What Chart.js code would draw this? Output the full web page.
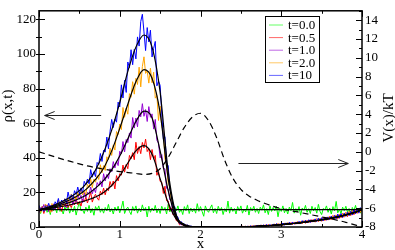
<!DOCTYPE html>
<html>
<head>
<meta charset="utf-8">
<script src="https://cdn.jsdelivr.net/npm/chart.js@4.4.0/dist/chart.umd.min.js"></script>
<style>
  html, body { margin: 0; padding: 0; background: #fff; }
  #chart { display: block; }
</style>
</head>
<body>
<canvas id="chart" width="395" height="250"></canvas>
<script>
// simulated profiles are sampled every 0.02 in x, the fitted curves every 0.1
const simStep = 0.02;
const fitStep = 0.1;

const legendLabels = ['t=0.0', 't=0.5', 't=1.0', 't=2.0', 't=10'];
const legendColors = ['#00ff00', '#ff0000', '#9400d3', '#ffa500', '#0000ff'];

// rho(x,t), simulation (noisy)
const rhoT0 = [
  11.0, 7.8, 11.8, 9.3, 12.5, 8.5, 10.6, 7.2, 12.0, 9.4,
  11.3, 8.2, 14.5, 9.0, 10.3, 7.5, 11.5, 9.4, 12.2, 8.0,
  10.7, 8.7, 12.0, 6.9, 11.0, 14.5, 9.3, 10.0, 7.8, 11.5,
  9.0, 12.5, 8.2, 10.7, 6.8, 11.8, 9.7, 12.2, 8.5, 10.6,
  8.0, 11.3, 9.3, 13.1, 8.7, 10.6, 7.5, 11.5, 9.4, 12.0,
  8.2, 11.0, 15.0, 7.8, 10.3, 11.5, 9.0, 7.2, 11.8, 9.3,
  12.2, 8.0, 10.7, 8.7, 12.8, 9.4, 11.3, 5.8, 12.0, 8.5,
  11.0, 9.3, 12.5, 8.2, 10.6, 7.8, 12.0, 9.7, 11.3, 7.5,
  13.1, 8.7, 10.7, 8.0, 11.5, 9.3, 12.2, 8.5, 10.3, 7.2,
  11.8, 9.4, 12.8, 7.8, 11.0, 8.7, 10.7, 8.0, 13.5, 9.0,
  11.8, 9.0, 6.2, 12.2, 9.7, 8.5, 11.0, 12.8, 8.2, 10.7,
  7.8, 12.0, 9.3, 11.3, 7.2, 10.6, 8.7, 15.0, 8.0, 11.5,
  9.0, 10.7, 7.5, 11.8, 9.4, 12.2, 8.0, 10.3, 8.7, 12.5,
  6.9, 11.3, 9.3, 12.0, 8.5, 10.7, 7.8, 11.5, 9.7, 12.8,
  8.2, 10.6, 7.2, 12.2, 9.0, 11.3, 9.3, 12.0, 5.9, 11.0,
  9.0, 12.2, 8.2, 10.7, 7.5, 11.5, 9.4, 14.2, 8.0, 10.6,
  8.7, 11.8, 6.8, 11.0, 9.7, 12.5, 8.5, 10.6, 7.8, 12.0,
  9.3, 11.3, 8.0, 13.1, 9.0, 7.2, 10.7, 10.0, 12.2, 8.5,
  11.0, 7.5, 11.8, 9.3, 14.8, 8.2, 10.3, 7.8, 11.5, 9.4,
  12.0, 8.7, 10.7, 6.9, 11.3, 9.4, 12.5, 8.5, 10.6, 8.0,
  10.3
];
const rhoT05 = [
  10.6, 9.1, 11.9, 7.8, 11.2, 12.8, 10.0, 10.8, 9.0, 12.4,
  10.3, 13.6, 10.0, 12.4, 9.0, 13.5, 12.0, 14.4, 11.3, 13.2,
  11.2, 14.4, 12.8, 16.5, 12.9, 14.7, 12.1, 16.2, 14.5, 17.2,
  13.9, 16.9, 20.1, 14.4, 17.3, 18.9, 16.8, 15.5, 20.7, 18.7,
  22.5, 18.6, 22.4, 21.0, 26.3, 23.4, 26.6, 22.0, 29.7, 26.6,
  30.8, 30.0, 35.8, 31.7, 36.2, 33.7, 41.4, 39.4, 43.0, 38.9,
  49.0, 42.5, 46.5, 42.4, 48.9, 45.7, 50.8, 43.6, 45.4, 38.9,
  44.8, 39.2, 41.4, 29.9, 32.1, 26.4, 26.0, 19.4, 23.6, 15.2,
  15.1, 9.6, 11.1, 7.0, 7.6, 3.7, 3.5, 1.3, 2.2, 1.0,
  1.0, 0.3, 0.9, 0.1, 0.2, 0, 0.2, 0.1, 0.2, 0,
  0, 0, 0.1, 0, 0, 0, 0, 0, 0.1, 0,
  0, 0, 0, 0, 0, 0, 0.1, 0, 0, 0,
  0, 0, 0.1, 0, 0.1, 0.0, 0.4, 0.0, 0.2, 0.0,
  0.5, 0.0, 0.6, 0.1, 0.6, 0.1, 0.9, 0.3, 1.1, 0.4,
  1.2, 0.3, 1.4, 0.6, 1.0, 0.5, 1.7, 0.9, 1.9, 0.8,
  2.1, 1.0, 2.3, 1.2, 2.4, 1.2, 2.6, 1.5, 2.9, 1.6,
  3.1, 1.7, 3.4, 2.0, 3.6, 2.1, 3.9, 2.5, 4.2, 2.8,
  4.5, 2.8, 4.8, 3.1, 5.0, 3.3, 5.5, 3.7, 5.8, 4.0,
  6.2, 4.1, 6.6, 4.5, 6.9, 4.8, 7.4, 5.3, 7.9, 5.7,
  8.4, 6.0, 8.9, 6.6, 9.5, 7.1, 10.2, 7.9, 10.9, 8.5,
  10.8
];
const rhoT1 = [
  8.3, 11.2, 9.7, 13.0, 9.6, 11.2, 8.8, 12.5, 11.0, 13.4,
  10.3, 12.9, 15.6, 10.5, 13.0, 14.4, 12.4, 11.1, 15.5, 13.5,
  16.7, 13.0, 16.0, 14.5, 18.7, 16.0, 18.3, 14.0, 20.0, 17.0,
  20.1, 18.9, 23.1, 19.2, 22.3, 19.9, 25.7, 24.0, 26.7, 23.2,
  30.8, 26.6, 30.4, 28.0, 33.7, 32.0, 37.8, 34.1, 38.2, 35.5,
  43.8, 42.2, 49.4, 43.4, 50.6, 48.8, 54.4, 51.4, 63.3, 57.2,
  63.0, 57.9, 67.4, 63.7, 71.3, 64.0, 67.9, 61.0, 69.6, 63.4,
  65.4, 56.6, 62.2, 50.1, 48.5, 40.0, 41.9, 33.7, 33.6, 22.3,
  21.9, 15.7, 14.8, 7.4, 7.9, 6.5, 3.3, 2.5, 1.2, 1.6,
  0.8, 1.1, 0.3, 0.4, 0.0, 0.2, 0.1, 0.2, 0, 0.1,
  0, 0.1, 0, 0, 0, 0, 0, 0.1, 0, 0,
  0.1, 0, 0, 0, 0, 0, 0, 0, 0.1, 0,
  0, 0.1, 0, 0, 0, 0.3, 0.0, 0.2, 0.4, 0.1,
  0.1, 0.5, 0.2, 0.6, 0.3, 0.8, 0.2, 0.9, 0.4, 1.0,
  0.4, 1.3, 0.6, 1.2, 0.5, 1.5, 0.7, 1.8, 0.9, 1.6,
  1.0, 2.0, 1.2, 2.3, 1.3, 2.5, 1.4, 2.7, 1.6, 2.8,
  1.8, 3.0, 2.1, 3.5, 2.4, 3.7, 2.3, 3.9, 2.6, 4.3,
  2.9, 4.4, 3.2, 4.9, 3.4, 5.2, 3.6, 5.6, 3.9, 5.9,
  4.2, 6.0, 4.5, 6.4, 4.8, 7.1, 5.0, 7.5, 5.4, 7.9,
  6.1, 8.3, 6.5, 8.8, 6.9, 9.7, 7.6, 10.1, 8.0, 11.0,
  9.4
];
const rhoT2 = [
  12.0, 8.4, 11.1, 9.5, 13.2, 10.6, 12.4, 8.4, 13.6, 10.7,
  13.2, 11.9, 15.3, 11.7, 14.2, 11.8, 16.3, 14.6, 16.4, 13.2,
  19.1, 15.3, 17.9, 15.6, 19.8, 18.0, 22.0, 18.6, 21.3, 18.7,
  24.6, 22.9, 27.8, 22.8, 27.7, 25.9, 29.8, 27.5, 36.0, 31.4,
  35.5, 32.7, 40.6, 38.9, 45.7, 41.4, 47.5, 44.5, 55.2, 53.5,
  59.5, 56.3, 69.1, 63.4, 68.7, 65.2, 77.1, 75.0, 84.0, 76.8,
  86.0, 82.4, 92.4, 81.0, 92.8, 98.4, 88.8, 90.2, 83.2, 91.8,
  83.4, 89.5, 74.5, 76.0, 61.6, 69.9, 58.0, 55.5, 39.2, 36.1,
  25.4, 23.0, 15.0, 14.1, 7.4, 6.3, 3.0, 3.5, 1.8, 2.0,
  0.9, 1.1, 1.2, 0.1, 0.3, 0.2, 0.3, 0.1, 0, 0.1,
  0, 0, 0, 0.1, 0, 0, 0.1, 0, 0, 0,
  0, 0, 0, 0, 0.1, 0, 0, 0.1, 0, 0,
  0.1, 0, 0, 0, 0.2, 0.0, 0.3, 0.1, 0.4, 0.0,
  0.4, 0.1, 0.6, 0.2, 0.7, 0.2, 0.8, 0.3, 1.0, 0.5,
  1.1, 0.5, 1.3, 0.6, 1.4, 0.8, 1.6, 1.0, 1.9, 1.1,
  2.0, 1.1, 2.2, 1.3, 2.5, 1.4, 2.4, 1.6, 2.8, 1.8,
  3.0, 1.9, 3.3, 2.2, 3.6, 2.4, 3.8, 2.7, 4.1, 3.0,
  4.4, 3.0, 4.7, 3.3, 5.1, 3.6, 5.3, 3.9, 5.7, 4.3,
  6.1, 4.3, 6.5, 4.7, 7.0, 5.0, 7.3, 5.5, 7.8, 6.0,
  8.3, 6.4, 8.8, 6.9, 9.4, 7.6, 9.9, 8.2, 10.8, 8.9,
  10.4
];
const rhoT10 = [
  12.6, 9.2, 11.2, 9.0, 12.3, 10.6, 13.7, 10.5, 12.5, 10.1,
  14.6, 12.8, 16.5, 11.9, 15.6, 13.7, 16.3, 14.0, 20.2, 16.1,
  18.7, 15.8, 21.0, 18.8, 23.1, 19.2, 22.6, 19.7, 26.4, 24.4,
  27.7, 25.0, 33.2, 28.8, 31.9, 29.1, 37.3, 36.2, 42.5, 37.9,
  44.4, 43.3, 52.0, 45.2, 55.3, 62.2, 57.5, 62.4, 60.6, 72.2,
  69.4, 82.2, 74.6, 84.8, 77.8, 95.4, 92.0, 102.5, 93.8, 102.7,
  97.2, 109.9, 104.6, 118.8, 123.0, 112.8, 102.0, 115.3, 107.0, 113.8,
  98.3, 103.3, 107.3, 81.6, 84.3, 81.9, 65.9, 50.9, 52.1, 37.1,
  35.4, 21.9, 18.8, 11.8, 11.8, 6.7, 5.7, 2.0, 3.2, 1.5,
  1.7, 0.9, 1.2, 0.3, 0.5, 0.3, 0.1, 0.2, 0.0, 0.2,
  0.1, 0, 0, 0.1, 0, 0, 0, 0.1, 0, 0,
  0, 0, 0, 0.1, 0, 0.1, 0, 0, 0, 0,
  0, 0, 0.2, 0, 0.1, 0.4, 0.0, 0.3, 0.1, 0.4,
  0.1, 0.6, 0.2, 0.5, 0.1, 0.9, 0.2, 1.0, 0.4, 1.1,
  0.5, 1.3, 0.6, 1.4, 0.7, 1.7, 0.8, 1.9, 1.0, 1.5,
  1.2, 2.3, 1.0, 2.4, 1.4, 2.7, 1.5, 2.9, 1.7, 2.6,
  2.0, 3.3, 2.1, 3.7, 2.4, 3.9, 2.5, 4.2, 2.7, 4.0,
  3.1, 4.7, 3.3, 5.1, 3.5, 5.4, 3.7, 5.8, 4.0, 5.5,
  4.4, 6.3, 4.6, 6.7, 4.9, 7.4, 5.3, 7.8, 5.6, 8.0,
  6.3, 8.6, 6.7, 9.1, 7.0, 10.1, 7.8, 10.6, 8.3, 11.2,
  9.8
];

// rho(x,t), theory (smooth black curves)
const fitT0 = [10, 10];
const fitT05 = [10, 10.5, 11.2, 12, 13, 14.2, 15.6, 17.3, 20, 24, 29.5, 37, 44, 47, 42, 28, 14, 4.5, 0.8, 0.1,
  0, 0, 0, 0, 0, 0.1, 0.2, 0.4, 0.7, 1.0, 1.4, 1.8, 2.3, 2.9, 3.5, 4.2, 5.0, 5.9, 7.0, 8.3, 10];
const fitT1 = [10, 10.8, 11.8, 13, 14.5, 16.5, 19, 22.5, 27, 33, 41, 51, 61, 67, 63, 44, 21, 5, 1, 0.2,
  0, 0, 0, 0, 0, 0.1, 0.2, 0.4, 0.7, 1.0, 1.4, 1.8, 2.3, 2.9, 3.5, 4.2, 5.0, 5.9, 7.0, 8.3, 10];
const fitT2 = [10, 11, 12.3, 14, 16, 18.8, 22.5, 27.5, 34, 44, 57, 71, 84, 91, 86, 66, 28, 6, 1.2, 0.2,
  0, 0, 0, 0, 0, 0.1, 0.2, 0.4, 0.7, 1.0, 1.4, 1.8, 2.3, 2.9, 3.5, 4.2, 5.0, 5.9, 7.0, 8.3, 10];
const fitT10 = [10, 11.3, 12.9, 15, 17.6, 21, 26, 33, 43, 56, 72, 90, 104, 111, 104, 78, 32, 7, 1.5, 0.3,
  0.05, 0, 0, 0, 0, 0.1, 0.2, 0.4, 0.7, 1.0, 1.4, 1.8, 2.3, 2.9, 3.5, 4.2, 5.0, 5.9, 7.0, 8.3, 10];

// potential V(x)/kT, right axis
const xPot = [0, 0.2, 0.4, 0.6, 0.8, 1.0, 1.2, 1.3, 1.4, 1.5, 1.6, 1.7, 1.8, 1.9, 2.0, 2.1, 2.2, 2.3, 2.4, 2.5,
  2.6, 2.7, 2.8, 2.9, 3.0, 3.2, 3.4, 3.6, 3.8, 4.0];
const potential = [0, -0.55, -1.05, -1.5, -1.85, -2.1, -2.3, -2.4, -2.3, -1.8, -0.6, 1.0, 2.6, 3.7, 4.1, 3.3, 1.5, -0.9, -2.8, -4.0,
  -4.7, -5.15, -5.5, -5.8, -6.05, -6.4, -6.75, -7.1, -7.5, -8.0];

// arrows, in data units: [x0, y0, x1, y1, axis]
const arrows = [
  [0.77, 64.6, 0.07, 64.6, 'y'],
  [2.47, -1.23, 3.83, -1.23, 'y1']
];

const xSim = rhoT0.map((_, i) => i * simStep);
const xFit = fitT10.map((_, i) => i * fitStep);

const pts = (xs, ys) => ys.map((y, i) => ({ x: xs[i], y: y }));

const serif = '"Liberation Serif", "Times New Roman", serif';
Chart.defaults.font.family = serif;
Chart.defaults.font.size = 13;
Chart.defaults.color = '#000';

const simSeries = [rhoT0, rhoT05, rhoT1, rhoT2, rhoT10];
const fitSeries = [fitT0, fitT05, fitT1, fitT2, fitT10];

const datasets = [];
simSeries.forEach((ys, i) => {
  datasets.push({
    label: legendLabels[i],
    data: pts(xSim, ys),
    borderColor: legendColors[i],
    borderWidth: 1,
    pointRadius: 0,
    tension: 0,
    yAxisID: 'y',
    order: 6 - i
  });
});
fitSeries.forEach((ys, i) => {
  datasets.push({
    label: 'fit',
    data: i === 0 ? pts([0, 4], ys) : pts(xFit, ys),
    borderColor: '#000',
    borderWidth: 1.2,
    pointRadius: 0,
    cubicInterpolationMode: 'monotone',
    yAxisID: 'y',
    order: 1
  });
});
datasets.push({
  label: 'V',
  data: pts(xPot, potential),
  borderColor: '#000',
  borderWidth: 1.2,
  borderDash: [6, 4],
  pointRadius: 0,
  cubicInterpolationMode: 'monotone',
  yAxisID: 'y1',
  order: 0
});

// frame, inward ticks, arrows, titles and legend box
const decor = {
  id: 'decor',
  afterDatasetsDraw(chart) {
    const { ctx, chartArea: a, scales } = chart;
    const sx = scales.x, yl = scales.y, yr = scales.y1;
    ctx.save();
    ctx.strokeStyle = '#000';
    ctx.lineWidth = 1;
    ctx.beginPath();
    for (let k = 0; k <= 8; k++) {
      const px = Math.round(sx.getPixelForValue(k * 0.5)) + 0.5;
      const len = k % 2 === 0 ? 6 : 3;
      ctx.moveTo(px, a.bottom); ctx.lineTo(px, a.bottom - len);
      ctx.moveTo(px, a.top); ctx.lineTo(px, a.top + len);
    }
    for (let v = 0; v <= 120; v += 10) {
      const py = Math.round(yl.getPixelForValue(v)) + 0.5;
      const len = v % 20 === 0 ? 6 : 3;
      ctx.moveTo(a.left - 3, py); ctx.lineTo(a.left + len, py);
    }
    for (let v = -8; v <= 15; v++) {
      const py = Math.round(yr.getPixelForValue(v)) + 0.5;
      const len = v % 2 === 0 ? 6 : 3;
      ctx.moveTo(a.right, py); ctx.lineTo(a.right - len, py);
    }
    ctx.stroke();
    ctx.lineWidth = 1.5;
    ctx.strokeRect(a.left, a.top, a.right - a.left, a.bottom - a.top);

    // arrows
    ctx.lineWidth = 1;
    ctx.strokeStyle = '#222';
    arrows.forEach(([x0, y0, x1, y1, ax]) => {
      const p0x = sx.getPixelForValue(x0), p1x = sx.getPixelForValue(x1);
      const p0y = Math.round(scales[ax].getPixelForValue(y0)) + 0.5;
      const p1y = Math.round(scales[ax].getPixelForValue(y1)) + 0.5;
      const dir = Math.sign(p1x - p0x);
      ctx.beginPath();
      ctx.moveTo(p0x, p0y); ctx.lineTo(p1x, p1y);
      ctx.moveTo(p1x - dir * 10, p1y - 4); ctx.lineTo(p1x, p1y); ctx.lineTo(p1x - dir * 10, p1y + 4);
      ctx.stroke();
    });

    // axis titles
    ctx.fillStyle = '#000';
    ctx.font = '15px ' + serif;
    ctx.textAlign = 'center';
    ctx.textBaseline = 'middle';
    ctx.fillText('x', (a.left + a.right) / 2, 244);
    ctx.save();
    ctx.translate(8, 106);
    ctx.rotate(-Math.PI / 2);
    ctx.fillText('ρ(x,t)', 0, 0);
    ctx.restore();
    ctx.save();
    ctx.translate(389, 118);
    ctx.rotate(-Math.PI / 2);
    ctx.fillText('V(x)/kT', 0, 0);
    ctx.restore();

    // legend
    ctx.fillStyle = '#fff';
    ctx.fillRect(265, 16, 54, 66);
    ctx.strokeStyle = '#000';
    ctx.lineWidth = 1;
    ctx.strokeRect(265.5, 16.5, 54, 66);
    ctx.font = '13px ' + serif;
    ctx.textAlign = 'left';
    legendLabels.forEach((lab, i) => {
      const y = 25 + i * 12.6;
      ctx.globalAlpha = 0.6;
      ctx.strokeStyle = legendColors[i];
      ctx.beginPath();
      ctx.moveTo(269, y); ctx.lineTo(283, y);
      ctx.stroke();
      ctx.globalAlpha = 1;
      ctx.fillStyle = '#000';
      ctx.fillText(lab, 288, y + 0.5);
    });
    ctx.restore();
  }
};

new Chart(document.getElementById('chart'), {
  type: 'line',
  data: { datasets: datasets },
  options: {
    responsive: false,
    animation: false,
    events: [],
    layout: { padding: { top: 1, left: 0, right: 0, bottom: 0 } },
    scales: {
      x: {
        type: 'linear',
        min: 0,
        max: 4,
        grid: { display: false, drawTicks: false },
        border: { display: false },
        ticks: { stepSize: 1, padding: 0, autoSkip: false, maxRotation: 0 },
        afterFit: (s) => { s.height = 23; }
      },
      y: {
        type: 'linear',
        position: 'left',
        min: 0,
        max: 125,
        grid: { display: false, drawTicks: false },
        border: { display: false },
        ticks: { stepSize: 20, padding: 3, includeBounds: false },
        afterFit: (s) => { s.width = 39; }
      },
      y1: {
        type: 'linear',
        position: 'right',
        min: -8,
        max: 15,
        grid: { display: false, drawTicks: false },
        border: { display: false },
        ticks: { stepSize: 2, padding: 3, includeBounds: false },
        afterFit: (s) => { s.width = 33; }
      }
    },
    plugins: {
      legend: { display: false },
      tooltip: { enabled: false }
    }
  },
  plugins: [decor]
});
</script>
</body>
</html>
